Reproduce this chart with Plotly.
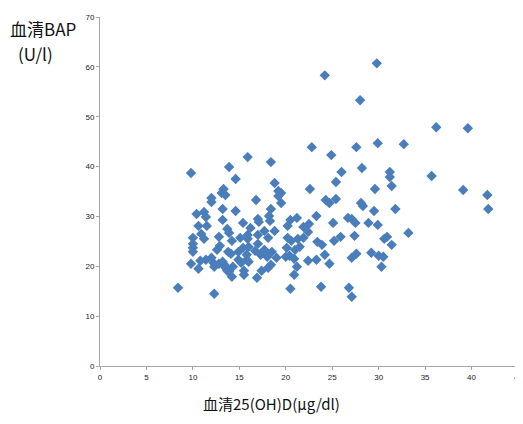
import plotly.graph_objects as go

vitamin_d = [
    24.2, 29.8, 28.0, 22.8, 27.6, 29.9, 32.7, 36.2, 39.6, 24.9,
    15.9, 18.4, 13.9, 9.8, 26.0, 28.2, 31.2, 31.2, 35.7, 14.6,
    25.4, 18.8, 29.6, 31.4, 39.1, 41.7, 41.8, 22.6, 13.3, 13.1,
    13.5, 19.2, 19.5, 19.2, 19.5, 12.0, 12.0, 16.8, 24.3, 24.7,
    25.4, 28.1, 28.3, 29.5, 31.8, 13.2, 14.6, 10.4, 11.2, 11.4,
    18.4, 18.2, 18.3, 17.0, 17.1, 20.5, 21.2, 23.3, 22.5, 21.9,
    20.2, 25.1, 16.2, 15.4, 13.2, 10.6, 11.5, 13.7, 26.7, 27.1,
    27.5, 28.9, 29.9, 33.2, 25.9, 27.4, 30.9, 30.6, 31.4, 27.1,
    27.6, 29.2, 30.0, 30.5, 30.3, 26.8, 27.1, 10.0, 10.9, 11.2,
    12.8, 13.9, 14.2, 15.1, 15.9, 10.0, 10.0, 10.0, 12.9, 12.6,
    13.8, 14.1, 14.9, 15.4, 15.8, 9.8, 10.8, 11.4, 10.6, 12.2,
    12.3, 12.8, 13.2, 13.5, 13.9, 14.3, 14.9, 15.2, 15.5, 15.5,
    14.2, 15.8, 8.4, 12.3, 17.0, 17.7, 18.1, 18.8, 22.4, 21.9,
    20.2, 20.6, 21.3, 23.4, 23.9, 25.2, 15.9, 16.0, 17.0, 16.7,
    17.3, 17.7, 18.0, 18.5, 19.0, 20.1, 21.0, 21.5, 20.0, 20.4,
    20.9, 21.2, 22.4, 23.3, 24.2, 24.7, 16.0, 17.4, 18.1, 18.4,
    16.9, 20.9, 20.5, 23.8, 12.0, 13.4, 13.7,
]
bap = [
    58.3, 60.7, 53.3, 43.9, 43.9, 44.7, 44.5, 47.9, 47.7, 42.3,
    41.9, 40.9, 39.9, 38.7, 38.9, 39.7, 38.9, 37.9, 38.1, 37.5,
    36.9, 36.7, 35.5, 36.1, 35.3, 34.3, 31.5, 35.5, 35.5, 34.7,
    34.3, 35.1, 34.7, 34.1, 32.7, 33.7, 32.9, 33.3, 33.3, 32.7,
    33.5, 32.7, 32.1, 31.1, 31.5, 31.5, 31.1, 30.5, 30.9, 29.9,
    31.5, 30.1, 29.1, 29.5, 28.9, 29.3, 29.7, 30.1, 28.5, 27.9,
    28.1, 28.7, 27.7, 28.7, 29.3, 28.1, 28.1, 27.5, 29.7, 29.5,
    28.7, 28.7, 28.3, 26.7, 25.9, 26.1, 25.9, 25.5, 24.3, 21.7,
    22.5, 22.7, 22.1, 21.9, 19.9, 15.7, 13.9, 25.7, 26.5, 25.5,
    25.9, 26.7, 25.1, 25.7, 26.3, 24.5, 23.7, 22.9, 24.1, 23.3,
    22.9, 22.5, 22.9, 23.7, 22.3, 20.5, 21.1, 21.3, 19.5, 20.7,
    19.9, 20.5, 20.9, 19.7, 18.9, 19.9, 21.3, 20.7, 19.1, 18.3,
    17.9, 21.3, 15.7, 14.5, 26.3, 27.1, 25.7, 27.1, 26.9, 25.7,
    25.7, 25.1, 25.5, 24.9, 24.3, 25.1, 25.5, 23.9, 24.5, 23.1,
    22.3, 23.3, 21.9, 22.9, 21.7, 23.7, 23.3, 23.9, 21.9, 22.1,
    21.5, 19.9, 21.1, 21.3, 22.3, 20.5, 20.9, 19.1, 19.7, 20.3,
    17.7, 18.3, 15.5, 15.9, 21.7, 20.3, 19.1,
]

x_ticks = [0, 5, 10, 15, 20, 25, 30, 35, 40, 45]
x_tick_labels = ["0", "5", "10", "15", "20", "25", "30", "35", "40", "45"]
y_ticks = [0, 10, 20, 30, 40, 50, 60, 70]

x_title = "血清25(OH)D(μg/dl)"
y_title_line1 = "血清BAP"
y_title_line2 = "(U/l)"

fig = go.Figure(
    go.Scatter(
        x=vitamin_d, y=bap, mode="markers",
        marker=dict(symbol="diamond", size=8, color="#4a7ebb",
                    line=dict(width=0)),
        hoverinfo="x+y",
    )
)

tick_font = dict(family="Liberation Sans, Arial, sans-serif", size=8, color="#222222")

axis_common = dict(
    showgrid=False, zeroline=False, showline=True,
    linecolor="#a6a6a6", linewidth=1,
    ticks="outside", ticklen=3, tickcolor="#a6a6a6",
    automargin=False, ticklabeloverflow="allow",
    tickfont=tick_font,
)

# last x label drawn as an annotation so it is not hidden at the page edge
fig.update_xaxes(range=[0, 45], tickvals=x_ticks,
                 ticktext=x_tick_labels[:-1] + [""], **axis_common)
fig.update_yaxes(range=[0, 70], tickvals=y_ticks, **axis_common)

title_font = dict(family="Noto Sans CJK JP", size=17, color="#111111")

fig.update_layout(
    width=515, height=408,
    margin=dict(l=92, r=5, t=9, b=50),
    paper_bgcolor="white", plot_bgcolor="white",
    showlegend=False,
    annotations=[
        dict(text=x_tick_labels[-1], xref="x", yref="paper",
             x=x_ticks[-1], y=0, yshift=-5, xanchor="center", yanchor="top",
             showarrow=False, font=tick_font),
        dict(text=y_title_line1, xref="paper", yref="paper",
             x=-0.22, y=1.008, xanchor="left", yanchor="top",
             showarrow=False, font=title_font),
        dict(text=y_title_line2, xref="paper", yref="paper",
             x=-0.202, y=0.938, xanchor="left", yanchor="top",
             showarrow=False, font=title_font),
        dict(text=x_title, xref="paper", yref="paper",
             x=0.41, y=-0.108, xanchor="center", yanchor="middle",
             showarrow=False,
             font=dict(family="Noto Sans CJK JP", size=15, color="#111111")),
    ],
)

fig.write_html("out.html")
